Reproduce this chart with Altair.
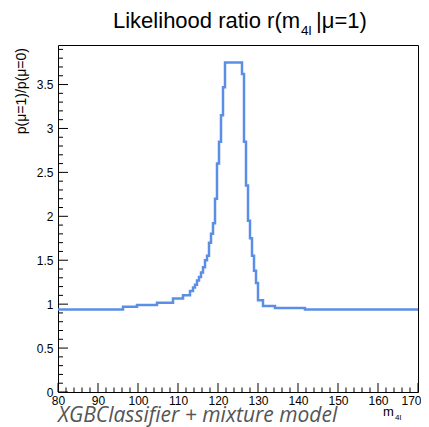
import altair as alt
import pandas as pd

# ---- data ----
step_x = [80, 96.25, 99.75, 104.75, 108.75, 111.25, 113.0, 113.75, 114.25, 114.75,
          115.25, 115.75, 116.25, 116.75, 117.25, 117.75, 118.25, 118.75, 119.25,
          119.75, 120.25, 120.75, 121.25, 121.75, 126.0, 126.5, 127.0, 127.5, 128.0,
          128.5, 129.0, 129.5, 130.0, 131.25, 134.25, 141.75, 170]
step_y = [0.94, 0.97, 0.99, 1.015, 1.065, 1.10, 1.15, 1.19, 1.22, 1.27,
          1.31, 1.36, 1.42, 1.50, 1.55, 1.70, 1.80, 1.92, 2.20,
          2.60, 2.85, 3.15, 3.47, 3.75, 3.62, 2.85, 2.35, 1.95, 1.75,
          1.55, 1.38, 1.24, 1.045, 0.98, 0.955, 0.94, 0.94]

x_major = [80, 90, 100, 110, 120, 130, 140, 150, 160, 170]
x_minor = [v for v in range(80, 171, 2) if v % 10 != 0]
y_major = [0, 0.5, 1, 1.5, 2, 2.5, 3, 3.5]
y_minor = [round(i * 0.1, 1) for i in range(0, 40) if i % 5 != 0]

title_main = "Likelihood ratio r(m"
title_sub = "4l"
title_end = "|\u03bc=1)"
y_title = "p(\u03bc=1)/p(\u03bc=0)"
x_title = "m"
x_title_sub = "4l"
caption = "XGBClassifier + mixture model"

W, H = 360, 347
xs = alt.Scale(domain=[80, 170], nice=False, zero=False)
ys = alt.Scale(domain=[0, 3.95], nice=False, zero=False)
FONT = "Liberation Sans"

x_axis = alt.Axis(
    values=x_major, ticks=False, domain=False, grid=False, title=None,
    labelFontSize=12, labelFont=FONT, labelColor="black", labelPadding=3,
    labelOverlap=False, labelFlush=False, format="d",
    labelAlign=alt.condition("datum.value >= 170", alt.value("right"), alt.value("center")),
    labelOffset=alt.condition("datum.value >= 170", alt.value(3), alt.value(0)))
y_axis = alt.Axis(
    values=y_major, ticks=False, domain=False, grid=False, title=None,
    labelFontSize=12, labelFont=FONT, labelColor="black", labelPadding=5,
    labelOverlap=False, labelFlush=False, format="~g")

curve = pd.DataFrame({"m": step_x, "r": step_y})
line = alt.Chart(curve).mark_line(
    interpolate="step-after", color="#5B8EE6", strokeWidth=2.5
).encode(
    x=alt.X("m:Q", scale=xs, axis=x_axis),
    y=alt.Y("r:Q", scale=ys, axis=y_axis),
)

def xticks(vals, length):
    return alt.Chart(pd.DataFrame({"m": vals})).mark_rule(color="black", strokeWidth=1).encode(
        x=alt.X("m:Q", scale=xs, axis=x_axis),
        y=alt.value(H), y2=alt.value(H - length))

def yticks(vals, length):
    return alt.Chart(pd.DataFrame({"r": vals})).mark_rule(color="black", strokeWidth=1).encode(
        y=alt.Y("r:Q", scale=ys, axis=y_axis),
        x=alt.value(0), x2=alt.value(length))

def label(text, x, y, size, align="left", angle=0, italic=False, color="black", font=FONT, baseline="alphabetic"):
    kw = dict(align=align, baseline=baseline, fontSize=size, font=font, color=color)
    if angle:
        kw["angle"] = angle
    if italic:
        kw["fontStyle"] = "italic"
    return alt.Chart(pd.DataFrame({"t": [text]})).mark_text(**kw).encode(
        x=alt.value(x), y=alt.value(y), text="t:N")

layers = [
    line,
    xticks(x_major, 9), xticks(x_minor, 4.5),
    yticks(y_major, 10), yticks(y_minor, 5),
    label(title_main, 55, -17, 22),
    label(title_sub, 243, -10, 13.5),
    label(title_end, 258, -17, 22),
    label(y_title, -36, 3, 14, align="right", angle=270, baseline="middle"),
    label(x_title, 325, 371, 13),
    label(x_title_sub, 337, 375, 8),
    label(caption, 0, 377, 21, italic=True, color="#555555", font="Open Sans"),
]

chart = alt.layer(*layers).properties(
    width=W, height=H,
    padding={"left": 50, "top": 37, "right": 3, "bottom": 35},
    autosize=alt.AutoSizeParams(type="none"),
).configure_view(stroke="black", strokeWidth=1)

chart.save("out.html", embed_options={"renderer": "svg", "actions": False})
